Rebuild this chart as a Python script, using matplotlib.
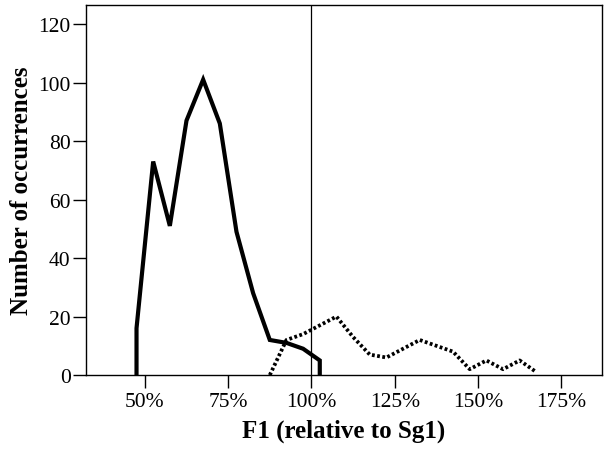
import matplotlib.pyplot as plt
from matplotlib.ticker import FuncFormatter

# F1 relative to Sg1 (%), bin midpoints
f1_group_a = [47.5, 47.5, 52.5, 57.5, 62.5, 67.5, 72.5, 77.5, 82.5, 87.5, 92.5, 97.5, 102.5, 102.5]
count_group_a = [0, 16, 73, 51, 87, 101, 86, 49, 28, 12, 11, 9, 5, 0]

f1_group_b = [87.5, 92.5, 97.5, 102.5, 107.5, 112.5, 117.5, 122.5, 127.5,
              132.5, 137.5, 142.5, 147.5, 152.5, 157.5, 162.5, 167.5]
count_group_b = [0, 12, 14, 17, 20, 13, 7, 6, 9, 12, 10, 8, 2, 5, 2, 5, 1]

x_ticks = [50, 75, 100, 125, 150, 175]
y_ticks = [0, 20, 40, 60, 80, 100, 120]

plt.rcParams['font.family'] = ['Liberation Serif', 'DejaVu Serif']

fig = plt.figure(figsize=(6.09, 4.52), dpi=100)
ax = fig.add_axes([0.141, 0.168, 0.8475, 0.8187])

ax.plot(f1_group_a, count_group_a, color='black', lw=3.0, solid_joinstyle='miter')
ax.plot(f1_group_b, count_group_b, color='black', lw=2.7, dashes=(0.75, 0.65),
        dash_capstyle='butt')
ax.axvline(100, color='black', lw=0.9)

ax.set_xlim(32.3, 187.2)
ax.set_ylim(0, 126.5)
ax.set_xticks(x_ticks)
ax.set_yticks(y_ticks)
ax.xaxis.set_major_formatter(FuncFormatter(lambda v, p: f"{v:.0f}%"))
ax.tick_params(axis='both', direction='out', length=9.5, width=1, labelsize=15.5, pad=1.5)
ax.tick_params(axis='x', pad=3)

for s in ax.spines.values():
    s.set_linewidth(1)

ax.set_xlabel('F1 (relative to Sg1)', fontsize=18, fontweight='bold', labelpad=5)
ax.set_ylabel('Number of occurrences', fontsize=18, fontweight='bold', labelpad=4)

fig.savefig('out.png', dpi=100)
